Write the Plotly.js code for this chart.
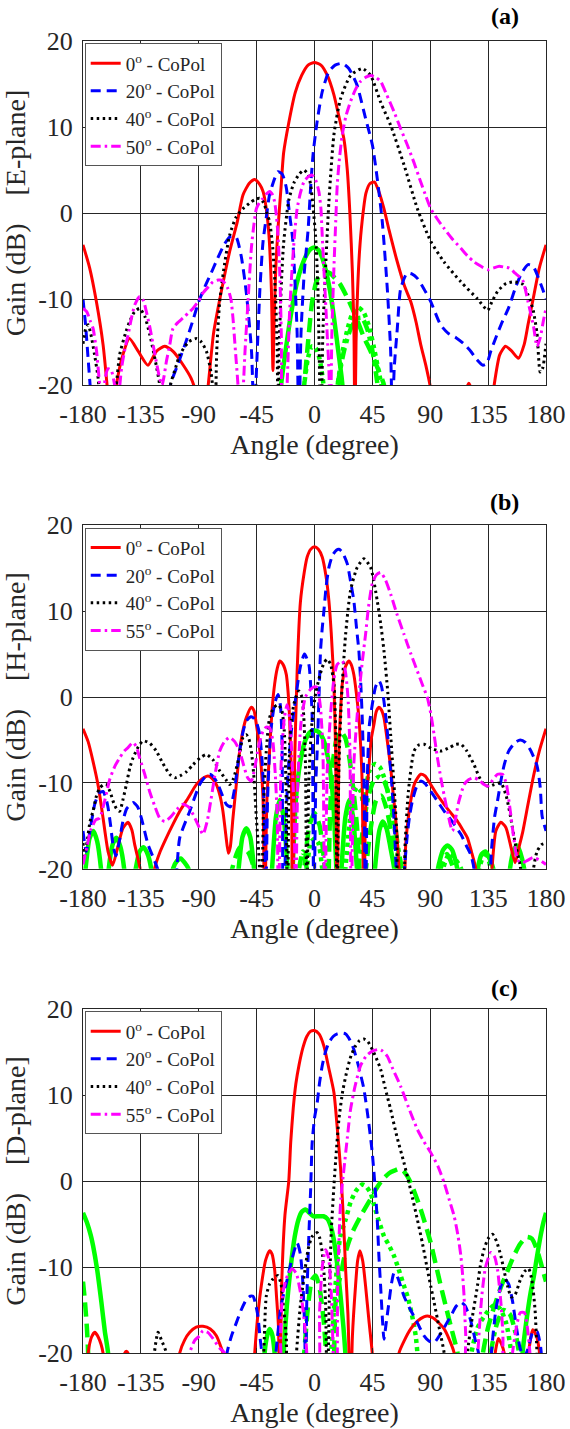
<!DOCTYPE html>
<html><head><meta charset="utf-8">
<script src="https://cdn.plot.ly/plotly-3.0.1.min.js"></script>
<style>html,body{margin:0;padding:0;background:#fff}#chart{width:570px;height:1429px}</style>
</head><body><div id="chart"></div>
<script>
// ---------- data: [angle (deg), gain (dB)] pairs; values below -20 are off-scale nulls ----------
const angleTicks = [-180,-135,-90,-45,0,45,90,135,180];
const angleTickText = ['-180','-135','-90','-45','0','45','90','135','180'];
const gainTicks = [-20,-10,0,10,20];
const gainTickText = ['-20','-10','0','10','20'];
const panelLabels = ['(a)','(b)','(c)'];
const planeNames = ['E-plane','H-plane','D-plane'];
const legendNamesA = ['0<sup>o</sup> - CoPol','20<sup>o</sup> - CoPol','40<sup>o</sup> - CoPol','50<sup>o</sup> - CoPol'];
const legendNamesBC = ['0<sup>o</sup> - CoPol','20<sup>o</sup> - CoPol','40<sup>o</sup> - CoPol','55<sup>o</sup> - CoPol'];

// ---- (a) E-plane ----
const aRed = [[-180,-3.7],[-174.8,-6.4],[-169.6,-10.3],[-164.4,-15.3],[-161.3,-20],[-158,-26],[-154,-20],[-149,-16.5],[-144,-14.6],[-137,-16.1],[-129.5,-17.7],[-123,-16.1],[-116.5,-15.5],[-110,-16.1],[-102,-17.7],[-96,-19.2],[-93,-20.5],[-88,-26],[-83,-20.5],[-78.5,-14],[-74,-10.3],[-66,-4.5],[-60,-1],[-55.6,2.1],[-50.5,3.5],[-46.5,3.9],[-42.5,3.3],[-40,2.5],[-37.5,0.5],[-35.4,-2.6],[-33.5,-9],[-32.3,-18.3],[-31.3,-12],[-30,-6],[-28,-1],[-26,3],[-24,7],[-20,10.5],[-15,14],[-10,16],[-5,17.2],[0,17.5],[5,17.2],[10,16],[15,13.8],[19,11.2],[23,8.5],[25.5,5],[27.5,0],[29.5,-7],[30.7,-14],[31.4,-26],[32.3,-15],[33.5,-9],[35,-4.5],[37,-1],[40,2.3],[43,3.4],[46.7,3.6],[50,2.5],[54,0.5],[58,-2],[64.4,-5.7],[70,-8.5],[74.8,-10.3],[79,-12.7],[82.6,-15.3],[87,-18],[90.4,-20.5],[95,-26],[112,-26],[117,-21],[120,-19.8],[123,-21],[128,-26],[135,-26],[139.7,-20],[144,-16.5],[148.5,-15.5],[153,-16],[158.5,-16.9],[163,-15.3],[166,-13],[169.6,-10.3],[174.8,-6.4],[180,-3.7]];
const aBlue = [[-180,-10],[-178,-13],[-176,-17],[-174,-21],[-172,-26],[-116,-26],[-112,-20],[-106,-17.5],[-100,-15],[-95,-12.7],[-90,-10.3],[-85,-8.5],[-81,-7.2],[-76,-5.5],[-70,-3.6],[-65,-2.7],[-61,-2.8],[-57,-5],[-53,-9.3],[-49,-16],[-47,-24],[-44,-14.2],[-42.5,-9],[-40,-3.3],[-37,0],[-35,2.1],[-31,4],[-28.4,4.8],[-25,4.5],[-22,3],[-19.5,0],[-17,-3],[-15.5,-7],[-13.5,-14],[-12.2,-26],[-10.5,-14],[-8,-7],[-5,-2],[-3,3],[-1,7],[2,10.6],[6,14.1],[11,16.4],[16,17.2],[21.6,17.4],[26.7,16.8],[33,14.9],[39.7,11],[45,7.9],[48.8,4],[52.7,-1],[56.6,-8.8],[59.2,-16],[60.5,-24],[62,-18],[64.4,-13.4],[67,-8.8],[72,-7],[76,-7.1],[80,-7.6],[85,-8.8],[90.4,-10.3],[98,-13],[104,-14],[110,-14.5],[116,-15.2],[121.6,-16.1],[126,-17],[131,-17.7],[134,-17.5],[137,-16.1],[141,-14.5],[145,-13],[151,-11],[156,-8.8],[161,-7],[166,-6],[170,-6.2],[174,-7.5],[177,-8.7],[180,-10]];
const aBlack = [[-180,-15.2],[-178,-13.5],[-176,-13],[-174,-14],[-171,-16.5],[-168,-19.5],[-166,-26],[-157,-26],[-154,-20],[-151.5,-16.5],[-147,-14],[-143.7,-12.6],[-140,-11.5],[-136,-11.1],[-132,-12],[-128,-14.2],[-124,-17],[-120.4,-20],[-118,-26],[-114,-26],[-112,-20],[-108,-18],[-104.8,-16.5],[-98,-15],[-92,-14.6],[-88,-15],[-84,-16.1],[-80.5,-18.5],[-79,-20.5],[-77.5,-26],[-76,-16],[-73.7,-10.3],[-70,-6],[-66,-2.6],[-61,-0.5],[-55.6,0.5],[-50,1.2],[-46,1.6],[-42.6,1.7],[-39.5,1.2],[-37,0],[-34.9,-1],[-32.5,-4],[-30.5,-9],[-29,-16],[-28.4,-26],[-27.5,-16],[-26,-9],[-24,-3.5],[-20,1.5],[-16,3.5],[-12,4.5],[-8.3,5],[-5,4.5],[-3,3.3],[-1,0.5],[0.8,-2.6],[2.5,-8],[3.4,-14.2],[5,-26],[6.5,-14],[8.6,-6.4],[11.2,1.3],[15.1,9.1],[20.3,13.3],[28.1,16],[37.1,16.8],[43.6,16],[51.4,12.9],[59.2,10.2],[69.6,5.6],[80,0.5],[90.4,-3.3],[100.8,-5.7],[113.8,-8],[126.8,-10],[134.6,-11.3],[138,-10.3],[142.4,-9.1],[148.9,-8.2],[155,-8],[162,-8.3],[166,-9.5],[170,-11.3],[173,-14],[175.5,-18.5],[177.5,-18],[180,-15.2]];
const aMagenta = [[-180,-11.1],[-177,-11.5],[-174.5,-12.5],[-172.2,-13.4],[-169.5,-16],[-167,-20],[-165,-22],[-162.5,-19],[-160.5,-18.1],[-158,-18.3],[-155.4,-20],[-153,-22],[-150,-18],[-147,-15.5],[-145,-14.2],[-142,-12],[-139.8,-10.7],[-135.9,-9.7],[-133,-10.2],[-130.7,-11.5],[-128,-13.3],[-125.5,-15.3],[-123,-17.3],[-120.4,-19.2],[-118.5,-20],[-117,-19],[-115.2,-17.3],[-112.5,-15.3],[-110,-13.4],[-106,-12.7],[-102.2,-12.2],[-98,-11.6],[-94.5,-11.1],[-90,-10.2],[-86.7,-9.3],[-82,-8.5],[-78.9,-8],[-75,-7.8],[-72.4,-7.8],[-69.5,-8.2],[-67.3,-8.8],[-65,-10],[-63.4,-12.2],[-61.5,-16],[-59.5,-20],[-57.5,-26],[-54,-16],[-51.7,-10.3],[-49.1,-4.1],[-47,-1.2],[-45.2,0.5],[-42.5,1.3],[-40.1,1.7],[-37.5,2.2],[-34.9,2.5],[-32.5,2.1],[-31,1.3],[-29.5,-0.5],[-28.4,-2.6],[-27,-7],[-25.8,-14.2],[-24.5,-26],[-23.5,-26],[-21.3,-20],[-19.5,-12],[-17.4,-6.4],[-15.5,-2.5],[-13.5,0.5],[-11,2.3],[-8.3,3.6],[-5,4.2],[-1.8,4.4],[1,3.8],[3.4,2.5],[5,0.5],[6,-2.6],[7.3,-6.5],[8.6,-10.3],[10,-14.5],[11.2,-18.1],[12.3,-26],[13.5,-14],[15.1,-6.4],[16.5,-1],[17.7,3.3],[19.5,6.5],[21.6,9.1],[24.5,11.3],[28.1,13],[32,14.4],[35.8,15.3],[40,15.8],[43.6,16],[47.5,15.8],[51.4,15.3],[56,13.8],[61.8,11.8],[67,9.8],[72.2,7.9],[77.5,5.8],[82.6,3.6],[86.5,2],[90.4,0.5],[95.5,-0.7],[100.8,-1.8],[107,-3],[113.8,-4.1],[119,-5],[124.2,-5.7],[129.5,-6.2],[134.6,-6.6],[139,-6.4],[143.6,-6.2],[148,-6.3],[151.4,-6.4],[156,-7],[161.8,-7.8],[166,-10.3],[170.3,-13.2],[173,-15.5],[175.5,-14.5],[178,-12.5],[180,-11.1]];
const aGreenSolid = [[-30,-26],[-26,-20],[-22,-15.5],[-18,-11.5],[-14,-8.3],[-10,-6.2],[-6,-4.8],[-3,-4.2],[0,-4],[3,-4.3],[6,-5.2],[9,-6.8],[12,-9],[15,-12],[18,-15.5],[21,-19],[23,-22],[25,-26]];
const aGreenDash = [[-12,-26],[-8,-20],[-5,-15],[-2,-10.5],[1,-8.2],[4,-7.2],[8,-6.8],[12,-7],[16,-7.6],[20,-8.3],[26,-10],[32,-12],[38,-14.3],[44,-16.2],[49,-18],[54,-20],[57,-26]];
const aGreenDot = [[-12,-26],[-8,-20],[-5,-16.8],[-2,-15.5],[1,-15.7],[4,-17],[7,-20],[9,-26],[15,-26],[18,-20],[22,-16],[26,-13.3],[30,-11.5],[34,-11],[38,-11.5],[42,-13],[46,-15.5],[50,-18.5],[52,-20],[55,-26]];
const aGreenDashDot = [[14,-26],[18,-20],[23,-16],[28,-13.5],[33,-12.3],[37,-12.2],[41,-13.5],[45,-16],[49,-20],[52,-26]];

// ---- (b) H-plane ----
const bRed = [[-180,-3.7],[-176,-5.2],[-172.2,-7.5],[-168,-10.5],[-164.4,-14.1],[-160.5,-18],[-157,-19.6],[-153,-17.5],[-149,-15.3],[-145,-14.6],[-142,-15.5],[-139.8,-17.2],[-137,-19],[-135,-20.5],[-132,-26],[-127,-26],[-124.3,-20],[-120,-18],[-115.2,-16.4],[-110,-14.8],[-104.8,-13.3],[-98,-11.7],[-91.9,-10.2],[-87,-9.5],[-82.8,-9.2],[-79.5,-9.5],[-76.3,-10.2],[-73.5,-11.5],[-71.2,-13.3],[-69,-16],[-67,-18.2],[-65.5,-17.5],[-63.4,-14.1],[-61,-10.5],[-58.2,-6.3],[-55.5,-3.8],[-53,-2.4],[-49.1,-1.2],[-47,-1.6],[-45.2,-3.2],[-43.2,-5.3],[-41.4,-8.2],[-40,-12],[-38.8,-26],[-37,-12],[-34.9,-6.3],[-33,-1.5],[-31,1.5],[-29,3.3],[-27.1,4.2],[-24.5,3.8],[-21.9,2.6],[-20.5,0.5],[-19.4,-2.4],[-18,-9],[-17,-26],[-15.5,-8],[-13.5,3],[-11,11],[-8,14.5],[-5.7,16.3],[-3,17.2],[0,17.5],[3,17.2],[6,16.3],[9,14],[11.2,11.2],[13,7.5],[15.1,1.5],[16.4,-6.3],[17.7,-26],[19,-6],[20.5,-1],[21.6,1.5],[24,3.5],[26.7,4.2],[28.5,3.8],[30.6,2.6],[32.5,0.5],[34.5,-2.4],[36,-6],[37.1,-10.2],[38.4,-26],[39.8,-13],[42.3,-8.2],[44,-5],[46.2,-3.2],[48,-1.7],[50.1,-1.2],[52,-1.5],[54,-2.4],[56.5,-5],[59.2,-8.2],[61,-11],[63.1,-14.1],[65.7,-20],[67,-26],[68.5,-26],[71,-17],[74.8,-12.1],[78,-10],[82.6,-9],[86,-9.2],[90.4,-10.2],[95,-11.3],[100.8,-12.5],[106,-13.5],[111.2,-14.5],[115,-15.4],[118.9,-16.4],[122,-18],[125.4,-20],[128,-26],[135,-26],[138,-20],[141,-15.6],[144.9,-14.6],[148.8,-15.2],[152,-17],[156,-19.3],[159,-17.5],[161.8,-15.8],[166,-12.5],[170.3,-9.2],[175,-6.2],[180,-3.7]];
const bBlue = [[-180,-15.6],[-177.5,-18],[-175,-16],[-170.9,-12.5],[-167.5,-11.2],[-164.4,-11],[-161,-12.5],[-158.5,-15],[-156.7,-17.2],[-154.5,-18.5],[-152,-17],[-149,-14.5],[-146,-13],[-141,-12.3],[-137.5,-12.8],[-134.6,-14.1],[-129.4,-17.2],[-124.3,-19.1],[-121,-20.5],[-117,-26],[-110,-26],[-107,-20],[-104.8,-16.4],[-97,-13.3],[-89.3,-10.2],[-85,-9.3],[-81.5,-9],[-78,-9.4],[-75,-10.2],[-71.5,-11.5],[-68.6,-12.5],[-65.5,-12.8],[-62.5,-11],[-58.2,-6.3],[-55.5,-4],[-53,-2.8],[-49.5,-2.3],[-47.8,-2.4],[-45,-3],[-42.6,-4.4],[-40.5,-8],[-39,-14],[-38,-26],[-36.5,-12],[-34,-4],[-31,-0.8],[-28.4,0.3],[-26.5,-1],[-25.3,-5],[-24.3,-26],[-21,-10],[-18,-4],[-14.5,0],[-11,3.5],[-7.8,5],[-4.4,3.8],[-2.5,0],[-1.8,-2.4],[-0.5,-26],[1,-10],[2.1,-6.3],[3.5,0],[4.7,5.4],[6,8],[7.3,10],[9,12.8],[11.2,15.1],[14,16.5],[17,17.1],[19,17.2],[21.5,16.9],[25.5,15.5],[28,13.5],[30.6,11.2],[32.7,8],[34.5,5.4],[36,1.5],[37.1,-2.4],[38.5,-10],[39.7,-26],[41,-10],[42.5,-3.5],[44.9,-0.9],[47.5,1.2],[50.1,1.9],[52,1.3],[54,-0.5],[56,-3],[57.9,-6.3],[60,-10],[61.8,-14.1],[63.5,-20],[65,-26],[68,-26],[70,-20],[72.2,-16],[74,-13.8],[76.1,-12.1],[79,-10.6],[82.6,-9.8],[86,-10.1],[90.4,-11],[95,-12],[100.8,-13.3],[107,-14.5],[113.8,-16],[118,-17.3],[121.6,-18.4],[124,-20],[126,-26],[134,-26],[137.5,-18],[140,-14],[142.3,-12.1],[145,-9.7],[147.5,-7.9],[151,-6.3],[156,-5.3],[160,-5],[164,-5.3],[168,-6.2],[173,-8],[175.5,-10.5],[177,-13.9],[180,-15.6]];
const bBlack = [[-180,-17],[-178.7,-18.5],[-176.5,-16.5],[-174.5,-14.5],[-172.2,-13.3],[-169.5,-11.5],[-167,-10.6],[-164,-10.2],[-161.8,-10.2],[-159,-11],[-156.7,-12.1],[-154,-13],[-151.5,-13.3],[-149,-12],[-146.3,-10.2],[-143.5,-8.2],[-141.1,-7.1],[-137,-5.8],[-133.3,-5.1],[-128,-5.4],[-123,-6.3],[-118,-7.7],[-112.6,-9],[-108.5,-9.4],[-104.8,-9.2],[-99.5,-8.7],[-94.5,-7.9],[-89,-7.1],[-84.1,-6.7],[-79,-7.3],[-73.7,-8.6],[-69,-9.6],[-66,-10.2],[-63,-9.5],[-59,-7.2],[-55.6,-4.7],[-53,-4.4],[-51,-4.9],[-49.1,-6.3],[-47,-9.5],[-45.2,-14.1],[-43,-19],[-41.4,-26],[-39.5,-12],[-37.5,-6.3],[-34.9,-2.4],[-31.5,-1.2],[-28.4,-0.9],[-25.5,-1.5],[-23.5,-4],[-22.2,-10],[-21,-26],[-19,-4.5],[-16,-0.8],[-12.2,0.7],[-9.8,0],[-8.3,-2.4],[-7,-8],[-6,-26],[-4.5,-10],[-2,-3],[1,0.5],[4.7,2.8],[7.5,4],[9.9,4.4],[12.5,3.8],[15.1,1.5],[16.5,-4],[17.5,-26],[19,-8],[21,0],[24.2,7.3],[28,12.4],[33.2,15.1],[38.4,16.1],[43.6,15.1],[48.8,11.2],[51.5,8.5],[54,5.4],[57,0.5],[59.2,-4.4],[61.8,-10.2],[64,-16],[65.7,-26],[68,-26],[70.5,-17],[73,-11],[77.4,-6.3],[81,-5.6],[85.2,-5.5],[91,-6],[98.2,-6.3],[105,-5.9],[110,-5.5],[113.8,-5.5],[118,-6.2],[124.1,-7.9],[128,-9.3],[131.9,-10.2],[136,-10.4],[139.7,-10.2],[144.9,-10],[149,-11.5],[152.5,-14],[156,-17],[160,-19.7],[163,-25],[168,-25],[170.3,-20],[173,-18],[176.5,-17.2],[180,-17]];
const bMagenta = [[-180,-19.5],[-177,-17.5],[-174,-15.5],[-170,-14.3],[-167,-14.1],[-163,-12],[-159,-9.5],[-155,-8],[-151.5,-7.1],[-148,-6.3],[-145,-5.9],[-141.1,-5.3],[-138.5,-5.8],[-135.9,-7.1],[-132,-9],[-128.2,-11],[-124,-12.8],[-120.4,-14.1],[-116.5,-14.5],[-112,-14],[-107,-13.1],[-102.2,-12.5],[-98,-12.8],[-94,-13.8],[-89.3,-15.3],[-86.7,-16],[-83.5,-14.5],[-80,-11.5],[-77,-8.7],[-73.7,-6.3],[-70,-5.2],[-66,-4.7],[-62,-5.2],[-58.2,-6.3],[-55,-8],[-52,-9.4],[-49.1,-9.8],[-46.5,-8.3],[-43.5,-5.8],[-40.1,-4],[-37.5,-3.5],[-34.9,-3.6],[-32.5,-5],[-30.5,-9],[-29,-14],[-28,-26],[-26,-8],[-23.5,-2.5],[-21.3,-0.9],[-19.3,-2.5],[-17.5,-7],[-15.8,-14],[-14.8,-26],[-13,-10],[-10.5,-3],[-7,0],[-3,0.9],[0,1.2],[2,1.1],[4.5,-1],[6.5,-6],[8,-26],[10,-8],[12.5,-2],[15,2],[17.7,3.8],[21.6,4.2],[24,3],[26,0],[27.5,-6],[28.5,-26],[30.5,-8],[33,-2.5],[35,1],[37.3,4.3],[39.7,7.3],[42,10.5],[44.9,13.2],[48,14.2],[51.4,14.5],[55,13.7],[59.2,12],[64,9.7],[69.6,7.3],[75,5],[80,3],[84,1.4],[87.8,-0.1],[90.5,-2],[93,-4.4],[95.5,-7],[98.2,-9.4],[101,-11.6],[103.4,-13.3],[105.5,-14.8],[107.3,-15.6],[109.5,-14.3],[112,-12.3],[116.4,-10.2],[120,-9.6],[124.1,-9.4],[128,-9.7],[131.9,-10.2],[134.5,-10.4],[137,-10],[142.3,-9],[146.2,-9],[149,-10],[152,-13],[155,-16.5],[158,-19],[161.8,-19.3],[166,-19],[170,-18.7],[175,-19],[180,-19.5]];
const bGreenSolid = [[-180,-23],[-178,-20],[-175,-16.5],[-172,-15.6],[-169,-16.8],[-166,-20],[-163,-26],[-160,-20],[-157,-17.2],[-154,-16.4],[-151,-17.4],[-148,-20],[-145,-26],[-139,-20],[-136,-18],[-133,-17.5],[-130,-18.2],[-127,-20],[-124,-26],[-113,-26],[-110,-20],[-107,-19.1],[-104,-18.8],[-101,-19.3],[-98,-20],[-95,-26],[-62,-26],[-59,-20],[-56,-16.3],[-53,-15.3],[-50,-16.3],[-47,-20],[-44,-26],[-36,-26],[-33,-20],[-30,-14],[-27,-12],[-24,-14],[-21,-20],[-19,-26],[-17,-20],[-14.5,-12],[-11,-7.5],[-7,-5],[-3.5,-4.1],[0,-3.9],[3.5,-4.1],[7,-5],[11,-7.5],[14.5,-12],[17,-20],[19,-26],[21,-20],[24,-14],[27,-12],[30,-14],[33,-20],[36,-26],[44,-26],[47,-20],[50.5,-15.5],[53,-14.5],[56,-15.3],[59,-17.5],[62,-20],[65,-26],[93,-26],[96,-20],[100,-17.8],[103.4,-17.3],[107,-17.8],[111,-20],[114,-26],[124,-26],[127,-20],[130,-18.3],[133,-18],[136,-18.8],[139,-20],[142,-26],[149,-26],[152,-20],[155,-17.8],[157.5,-17.3],[160,-18.1],[163,-20],[166,-26],[180,-23]];
const bGreenDash = [[-70,-26],[-64,-20],[-58,-17.5],[-52,-18],[-47,-20],[-44,-26],[-12,-26],[-8,-20],[-4,-15],[0,-13.5],[4,-15],[8,-20],[10,-26],[12,-14],[14,-8],[17,-5],[20.5,-4],[24,-4.8],[27,-7],[30,-10.5],[33,-15],[35,-20],[37,-26],[40,-20],[44,-15],[48,-12],[52,-11.5],[56,-13],[60,-16],[64,-20],[67,-26],[95,-26],[98,-20],[103,-18.3],[108,-20],[112,-26]];
const bGreenDot = [[-10,-26],[-6,-20],[-3,-17],[0,-16.5],[3,-17],[6,-20],[9,-26],[20,-26],[24,-20],[27,-15],[30,-11.5],[33,-10.5],[36,-11],[38,-12.5],[40,-10.5],[43,-8.5],[47,-7.8],[51,-8.2],[55,-9.8],[59,-12.5],[63,-16],[66,-20],[69,-26],[97,-26],[100,-20],[105,-18.2],[110,-19],[114,-20],[118,-26],[125,-26],[128,-20],[133,-18],[137,-20],[140,-26]];
const bGreenDashDot = [[-15,-26],[-12,-20],[-9,-18],[-6,-20],[-4,-26],[30,-26],[34,-20],[38,-15],[42,-11.5],[46,-9.8],[50,-9.3],[54,-9.8],[58,-11.5],[62,-14.5],[66,-18.5],[68,-20],[70,-26]];

// ---- (c) D-plane ----
const cRed = [[-179,-26],[-176,-20],[-173.5,-18.2],[-170.9,-17.6],[-168,-18.2],[-164.4,-20],[-162,-26],[-149,-26],[-147.5,-20],[-146.3,-19.8],[-145,-20],[-143.5,-26],[-108,-26],[-104.8,-20],[-101,-18.5],[-97,-17.6],[-92,-17],[-86.7,-16.9],[-81,-17.2],[-76.3,-18],[-73.5,-19],[-71.2,-20],[-69,-26],[-49,-26],[-46.5,-20],[-44,-15.5],[-41.4,-12.2],[-38,-9.2],[-34.9,-8.1],[-33,-8.5],[-31,-10.3],[-29.5,-13.5],[-28,-17],[-27.1,-26],[-25.5,-12],[-23,-4],[-20,0],[-18.5,4.5],[-16.5,8.5],[-14.5,11.3],[-12,13.5],[-9,15.5],[-6,16.8],[-3,17.4],[0,17.5],[3.5,17.1],[7.3,15.7],[11,13.2],[15.1,10.3],[17.5,6.5],[20.3,1.4],[22.5,-4.5],[24.2,-10.3],[26,-15.5],[28,-26],[29.5,-18],[31.9,-12.2],[33.5,-9.3],[35.3,-8.1],[37.5,-9.3],[39.7,-12.2],[42.5,-16.5],[44.9,-20],[47,-26],[63,-26],[65.7,-20],[70,-18.5],[74.8,-17.2],[80,-16.3],[85,-15.8],[87.8,-15.7],[92,-15.9],[96,-16.4],[100.8,-17.2],[105,-18.5],[108.6,-20],[111,-26],[138,-26],[140.5,-20],[143,-18.3],[145.5,-19],[147.5,-20],[150,-26],[165,-26],[166.5,-20],[169.7,-17.3],[172.5,-18],[175,-20],[177,-26],[180,-26]];
const cBlue = [[-69,-26],[-68,-20],[-64.5,-18],[-60.8,-16.5],[-57,-15],[-53,-13.8],[-50,-13.4],[-47.8,-13.4],[-46,-14.2],[-44,-15.7],[-42.5,-18],[-41,-20],[-39.5,-26],[-33,-26],[-30,-20],[-26,-14.5],[-21.3,-11.5],[-17.4,-9],[-13.5,-7.2],[-11,-8.5],[-9,-12],[-7.5,-18],[-7,-26],[-6,-14],[-4.4,-6.4],[-3,-1],[-1.8,4.5],[0,7.3],[2.1,9.1],[4,11.5],[6,13.4],[8.5,15],[11.2,16.1],[14.5,16.8],[17.7,17.1],[21,17.2],[24.2,17.1],[27.5,16.4],[30.6,15.3],[34.5,13.2],[38.4,10.7],[41.8,7.2],[44.9,3.3],[47,-0.5],[48.8,-4.5],[50,-8.5],[51.4,-12.2],[52.8,-16],[54,-18.4],[55.5,-16.8],[57.9,-14.1],[60,-11.8],[61.8,-10.7],[64,-11],[66.5,-12],[69.6,-13.4],[74,-14.8],[80,-16.5],[85.2,-18],[89,-18.6],[93,-18.8],[97,-18],[101,-17],[106,-15.7],[110,-14.6],[113.8,-14.1],[117,-14.5],[121,-16],[125,-18.5],[127.5,-20],[130,-26],[135,-26],[137.5,-20],[141,-15],[144.9,-12.2],[148,-11.4],[151,-12],[154,-14],[157,-17],[160,-19.5],[163,-20.5],[166,-19.5],[170,-17.5],[173,-17.5],[176,-19.5],[178,-26]];
const cBlack = [[-127,-26],[-124.5,-20],[-121.7,-17.6],[-119,-18.5],[-115.2,-20],[-113,-26],[-42,-26],[-39.5,-20],[-37.5,-13.4],[-35,-12],[-32.3,-11.4],[-28.4,-11],[-26,-12],[-24.5,-14.1],[-22,-18],[-20,-26],[-16,-26],[-14,-20],[-11,-14.5],[-8,-11],[-5,-8],[-2,-6.5],[2.1,-6],[4,-6.6],[6,-8.3],[7.5,-11],[8.6,-14.1],[9.9,-26],[11.5,-14],[13,-6],[15.1,-0.6],[17,3.5],[19,7.2],[22,10.5],[25.5,13],[28.5,14.6],[31.9,15.7],[35,16.3],[38.4,16.5],[41.5,16.2],[44.9,15.3],[48,14.3],[51.4,13],[55,10.8],[59.2,8.3],[64,5.2],[69.6,2.1],[75,-1.2],[80,-4.5],[84,-7.3],[87.8,-10.3],[90.5,-12.3],[93,-14.1],[95.5,-16],[98.2,-18],[100.8,-20],[103,-26],[116,-26],[118.9,-20],[122,-16.5],[126.7,-12.2],[129,-9.8],[131.9,-7.9],[135,-6.7],[138.4,-6.2],[141.5,-7],[144.9,-8.7],[147.5,-10.5],[150.1,-12.2],[153,-13.5],[156,-13.2],[160,-11.5],[163.5,-10.5],[166.5,-10.2],[169,-11.5],[171.5,-15],[173,-20],[175,-26]];
const cMagenta = [[-100,-26],[-97,-20],[-93,-18.5],[-89.3,-18],[-86.7,-17.4],[-83,-17.6],[-79,-18.3],[-74,-19.4],[-70,-20],[-68,-26],[-28,-26],[-26.5,-18],[-24.6,-13],[-21,-11],[-17.4,-10.2],[-14,-10.8],[-11.5,-12.5],[-9.6,-14.1],[-7.5,-17],[-6,-20],[-5,-26],[2,-26],[4,-15],[6,-10],[8.6,-8],[11,-9],[13,-13],[14.5,-20],[15.5,-26],[16.5,-26],[18,-12],[19.5,-5],[20.5,-2],[22.9,1.4],[25.5,5],[28,8.3],[31.5,11],[35.8,13.4],[40,14.5],[44.9,15.1],[50.1,15.3],[53,15.1],[56.6,14.5],[61,13],[67,11],[73,8.6],[80,6],[85,4.6],[90.4,3.3],[96,1.7],[100.8,-0.2],[105,-2.3],[108.6,-4.1],[111.5,-6.3],[113.8,-8.7],[115.2,-11],[116.3,-13.4],[117,-16],[117.6,-18],[118.3,-26],[125,-26],[127,-20],[130,-13.5],[133,-10],[137.1,-8.3],[140,-8.8],[142.3,-10.3],[144.9,-14.1],[146.5,-18],[147.5,-26],[152,-26],[154,-20],[157,-17],[160,-15.3],[163.2,-15.3],[165.5,-17],[167.5,-20],[169,-26]];
const cGreenSolid = [[-180,-3.7],[-177,-4.8],[-174,-6.3],[-172.2,-7.5],[-169,-10.3],[-165.7,-14.1],[-163,-17.5],[-160.5,-20],[-158.5,-26],[-40,-26],[-38.8,-20],[-36.5,-17.8],[-34.9,-17.2],[-33,-17.8],[-31,-20],[-29,-26],[-26,-26],[-24,-20],[-21.5,-14.5],[-18.5,-10],[-15.4,-6.5],[-12.5,-4.5],[-10,-3.6],[-7,-3.3],[-4,-3.7],[-1,-4.1],[3,-4.1],[7,-4.1],[10,-4.4],[12.5,-5.2],[15,-6.8],[17.5,-9.5],[20,-13],[22.5,-17],[24,-20],[26,-26],[160,-26],[161.8,-20],[165,-16],[168,-13],[170.3,-11.3],[173,-8.8],[176,-6.2],[178,-4.8],[180,-3.7]];
const cGreenDash = [[-180,-11.7],[-178.5,-14],[-177,-17],[-176,-20],[-175,-26],[-12,-26],[-8,-20],[-5,-14.5],[-2,-11.5],[1,-11],[4,-12.5],[7,-16],[9,-20],[11,-26],[13,-26],[16.4,-14.1],[18.5,-12],[20.3,-11],[23,-9],[26.2,-7.3],[30,-5.8],[35.8,-4.1],[40,-3],[43.6,-2.1],[48,-0.9],[53,0.2],[58,0.9],[62,1.2],[65.7,1.4],[69,1.2],[72,0.6],[74.8,-0.2],[78.5,-1.6],[82.6,-3.3],[86.5,-5.2],[90.4,-7.2],[94,-9.5],[98.2,-12.2],[102,-14.5],[106,-16.9],[109,-18.6],[111.2,-20],[113,-26],[128,-26],[131,-20],[135,-17],[140,-14.5],[145,-12.3],[150,-10.5],[155,-8.7],[160,-7.3],[165,-6.5],[169,-6.7],[173,-8],[176.5,-9.8],[180,-11.7]];
const cGreenDot = [[10,-26],[13,-20],[15.5,-14],[17.7,-9.5],[20,-6.5],[24.2,-4.5],[28,-2.5],[32,-1.2],[37.1,-0.4],[40,-0.6],[43.6,-1.4],[46,-2.6],[48.8,-4.1],[51.5,-5.3],[54,-6.4],[58,-7.5],[61.8,-8.7],[65.5,-10.3],[69.6,-12.2],[72.5,-13.5],[74.8,-14.9],[77,-16.5],[78.7,-18],[80,-20],[81.5,-26],[118,-26],[122,-20],[127,-17],[133,-15.5],[139,-14.5],[144,-14.8],[149,-16.5],[153,-20],[156,-26]];
const cGreenDashDot = [[133,-26],[137,-20],[142,-16.5],[147,-15],[152,-15.5],[156,-17.5],[159,-20],[161,-26]];

// ---------- styles ----------
const FONT = 'Liberation Serif';
const INK = '#262626';
const coStyles = [
  {color:'#ff0000', width:3, dash:'solid'},
  {color:'#0000ff', width:3, dash:'10px,6px'},
  {color:'#000000', width:3, dash:'2.5px,3.5px'},
  {color:'#ff00ff', width:3, dash:'10px,4px,2.5px,4px'}
];
const xStyles = [
  {color:'#00ff00', width:4.5, dash:'solid'},
  {color:'#00ff00', width:4.5, dash:'14px,7px'},
  {color:'#00ff00', width:4.5, dash:'4px,4px'},
  {color:'#00ff00', width:4.5, dash:'12px,5px,4px,5px'}
];

const panels = [
  {co:[aRed,aBlue,aBlack,aMagenta], x:[aGreenSolid,aGreenDash,aGreenDot,aGreenDashDot], names:legendNamesA},
  {co:[bRed,bBlue,bBlack,bMagenta], x:[bGreenSolid,bGreenDash,bGreenDot,bGreenDashDot], names:legendNamesBC},
  {co:[cRed,cBlue,cBlack,cMagenta], x:[cGreenSolid,cGreenDash,cGreenDot,cGreenDashDot], names:legendNamesBC}
];

const H = 1429, W = 570, ML = 83.3, MR = 23.5;
const PW = W - ML - MR;
const tops = [41, 525.3, 1009], bots = [385, 868.7, 1353];
const labelY = [16, 502, 988];

const traces = [];
const layout = {
  width: W, height: H,
  margin: {l: ML, r: MR, t: 0, b: 0, pad: 0},
  paper_bgcolor: '#fff', plot_bgcolor: '#fff',
  font: {family: FONT, color: INK},
  annotations: []
};

panels.forEach((p, i) => {
  const sfx = i === 0 ? '' : String(i + 1);
  const xa = 'x' + sfx, ya = 'y' + sfx;
  const legendId = 'legend' + sfx;
  p.x.forEach((pts, k) => {
    traces.push({
      type: 'scatter', mode: 'lines', xaxis: xa, yaxis: ya,
      x: pts.map(d => d[0]), y: pts.map(d => d[1]),
      line: {color: xStyles[k].color, width: xStyles[k].width, dash: xStyles[k].dash, shape: 'spline', smoothing: 0.6},
      showlegend: false, hoverinfo: 'skip'
    });
  });
  p.co.forEach((pts, k) => {
    traces.push({
      type: 'scatter', mode: 'lines', xaxis: xa, yaxis: ya,
      x: pts.map(d => d[0]), y: pts.map(d => d[1]),
      name: p.names[k], legend: legendId,
      line: {color: coStyles[k].color, width: coStyles[k].width, dash: coStyles[k].dash, shape: 'spline', smoothing: 0.6},
      showlegend: true
    });
  });
  const dom = [1 - bots[i] / H, 1 - tops[i] / H];
  layout['xaxis' + sfx] = {
    anchor: ya, domain: [0, 1], range: [-180, 180],
    tickmode: 'array', tickvals: angleTicks, ticktext: angleTickText,
    showgrid: true, gridcolor: INK, gridwidth: 1, zeroline: false,
    showline: true, mirror: true, linecolor: INK, linewidth: 1,
    ticks: 'inside', ticklen: 5, tickcolor: INK,
    tickfont: {family: FONT, size: 26, color: INK},
    ticklabelstandoff: 6,
    automargin: false,
    title: {text: 'Angle (degree)', font: {family: FONT, size: 28, color: INK}, standoff: 4}
  };
  layout['yaxis' + sfx] = {
    anchor: xa, domain: dom, range: [-20, 20],
    tickmode: 'array', tickvals: gainTicks, ticktext: gainTickText,
    showgrid: true, gridcolor: INK, gridwidth: 1, zeroline: false,
    showline: true, mirror: true, linecolor: INK, linewidth: 1,
    ticks: 'inside', ticklen: 5, tickcolor: INK,
    tickfont: {family: FONT, size: 26, color: INK},
    ticklabelstandoff: 4,
    automargin: false,
    title: {text: 'Gain (dB)\u00a0\u00a0\u00a0\u00a0[' + planeNames[i] + ']', font: {family: FONT, size: 28, color: INK}, standoff: 6}
  };
  layout[legendId] = {
    x: (85 - ML) / PW, xanchor: 'left', xref: 'paper',
    y: 1 - (tops[i] + 2.3) / H, yanchor: 'top', yref: 'paper',
    bgcolor: '#ffffff', bordercolor: '#555555', borderwidth: 1,
    font: {family: FONT, size: 19, color: INK},
    tracegroupgap: 0, itemwidth: 30
  };
  layout.annotations.push({
    text: '<b>' + panelLabels[i] + '</b>', xref: 'paper', yref: 'paper',
    x: (505 - ML) / PW, y: 1 - labelY[i] / H, xanchor: 'center', yanchor: 'middle',
    showarrow: false, font: {family: FONT, size: 24, color: '#000'}
  });
});

Plotly.newPlot('chart', traces, layout, {staticPlot: true, displayModeBar: false});
</script>
</body></html>
